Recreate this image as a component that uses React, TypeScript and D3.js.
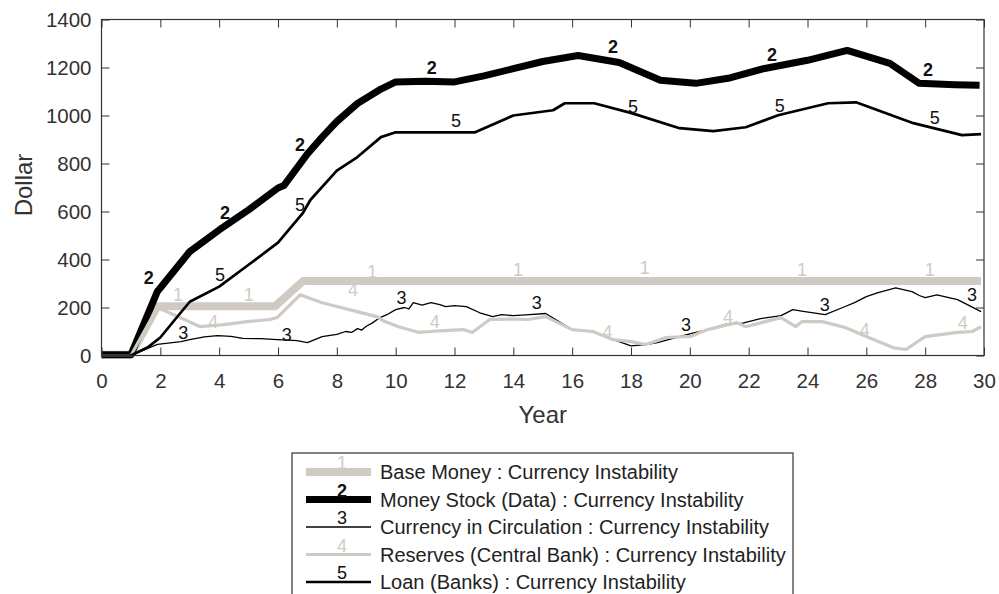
import React, { useEffect, useRef } from 'react'
import * as d3 from 'd3'

// --- data (year, dollar) ---
const baseYears = [0, 1, 1.9, 5.9, 6.85, 29.9]
const baseValues = [3, 3, 205, 205, 310, 310]

const moneyYears = [0, 1, 1.9, 3, 4, 5, 6, 6.2, 7, 7.5, 8, 8.7, 9.5, 10, 11, 12, 13, 14, 15, 16.2, 17.6, 19, 20.2, 21.3, 22.5, 24, 25.35, 26.8, 27.8, 29, 29.85]
const moneyValues = [3, 3, 267, 433, 523, 607, 698, 708, 840, 910, 975, 1050, 1110, 1140, 1143, 1140, 1165, 1195, 1225, 1250, 1221, 1147, 1134, 1155, 1195, 1230, 1271, 1217, 1134, 1128, 1126]

const currencyYears = [0, 1, 1.9, 2.7, 3.0, 3.5, 3.94, 4.4, 4.8, 5.4, 5.97, 6.65, 7.0, 7.5, 8.0, 8.3, 8.5, 8.7, 8.85, 9.0, 9.2, 9.47, 9.7, 10.0, 10.3, 10.45, 10.6, 10.9, 11.2, 11.5, 11.7, 12.0, 12.4, 12.86, 13.3, 13.6, 14.0, 14.55, 15.1, 16.0, 16.7, 17.4, 18.0, 18.5, 18.9, 19.4, 20.0, 20.6, 21.2, 21.8, 22.4, 23.1, 23.5, 23.8, 24.2, 24.6, 25.2, 25.6, 26.0, 26.4, 27.0, 27.55, 27.8, 28.0, 28.4, 29.1, 29.9]
const currencyValues = [0, 0, 46, 58, 66, 78, 83, 80, 71, 70, 66, 62, 54, 79, 88, 100, 96, 112, 106, 122, 135, 158, 170, 191, 200, 194, 220, 210, 220, 212, 204, 208, 204, 178, 162, 170, 166, 170, 175, 108, 100, 66, 40, 45, 54, 70, 90, 108, 130, 135, 154, 166, 191, 185, 178, 170, 200, 220, 245, 262, 282, 266, 250, 241, 253, 233, 183]

const reserveYears = [0, 1, 1.9, 2.6, 3.36, 4.15, 4.95, 5.73, 5.97, 6.75, 7.5, 8.69, 9.36, 9.57, 10.1, 10.8, 11.5, 12.3, 12.6, 13.2, 14, 14.5, 15.1, 16.0, 16.7, 17.4, 18.0, 18.5, 19.2, 20.05, 20.6, 21.6, 21.9, 23.1, 23.6, 23.8, 24.5, 25.3, 26.0, 26.9, 27.35, 27.7, 28.0, 29.1, 29.6, 29.9]
const reserveValues = [0, 0, 200, 162, 120, 129, 141, 150, 158, 253, 220, 183, 162, 145, 120, 96, 103, 108, 96, 150, 152, 150, 162, 108, 100, 66, 58, 46, 75, 80, 108, 137, 120, 158, 120, 141, 141, 116, 79, 33, 25, 54, 79, 96, 100, 120]

const loanYears = [0, 1, 1.56, 2, 2.5, 3, 4, 5, 6, 6.85, 7.1, 8, 8.7, 9.5, 10, 12.7, 14, 15.35, 15.75, 16.75, 18.05, 19.65, 20.8, 21.9, 23, 24.7, 25.65, 27.6, 29.25, 29.9]
const loanValues = [0, 0, 33, 75, 150, 224, 287, 378, 470, 594, 648, 770, 827, 910, 930, 930, 1000, 1022, 1051, 1051, 1009, 947, 935, 951, 1001, 1051, 1055, 968, 918, 922]

// number markers placed on the curves (year, dollar)
const baseMarks = [[2.6, 252], [5.01, 252], [9.2, 348], [14.16, 356], [18.47, 365], [23.81, 356], [28.16, 356]]
const moneyMarks = [[1.61, 323], [4.2, 593], [6.75, 877], [11.23, 1198], [17.39, 1285], [22.79, 1252], [28.1, 1190]]
const currencyMarks = [[2.78, 94], [6.3, 85], [10.2, 240], [14.8, 219], [19.87, 127], [24.59, 210], [29.59, 252]]
const reserveMarks = [[3.8, 140], [8.55, 273], [11.33, 140], [17.2, 98], [21.3, 160], [25.95, 106], [29.28, 135]]
const loanMarks = [[4.03, 335], [6.75, 627], [12.05, 977], [18.07, 1035], [23.06, 1040], [28.33, 990]]

const seriesNames = [
  'Base Money : Currency Instability',
  'Money Stock (Data) : Currency Instability',
  'Currency in Circulation : Currency Instability',
  'Reserves (Central Bank) : Currency Instability',
  'Loan (Banks) : Currency Instability',
]

const xTicks = d3.range(0, 31, 2)
const yTicks = d3.range(0, 1401, 200)

const GRAY = '#cfcbc4'
const FONT = '"Liberation Sans", Arial, sans-serif'

export default function App() {
  const ref = useRef<SVGSVGElement>(null)

  useEffect(() => {
    document.body.style.margin = '0'
    const width = 999
    const height = 594
    const plot = { left: 101.5, right: 984, top: 19.5, bottom: 355.5 }

    const svg = d3.select(ref.current!)
    svg.selectAll('*').remove()
    svg.attr('width', width).attr('height', height).style('display', 'block')
      .style('font-family', FONT)

    const x = d3.scaleLinear().domain([0, 30]).range([plot.left, plot.right])
    const y = d3.scaleLinear().domain([0, 1400]).range([plot.bottom, plot.top])

    const series = [
      { years: baseYears, values: baseValues, marks: baseMarks, color: GRAY, width: 8, bold: false },
      { years: moneyYears, values: moneyValues, marks: moneyMarks, color: '#000', width: 7, bold: true },
      { years: currencyYears, values: currencyValues, marks: currencyMarks, color: '#000', width: 1.3, bold: false },
      { years: reserveYears, values: reserveValues, marks: reserveMarks, color: GRAY, width: 3.2, bold: false },
      { years: loanYears, values: loanValues, marks: loanMarks, color: '#000', width: 2.7, bold: false },
    ]

    const line = d3.line<[number, number]>()
      .x(d => x(d[0]))
      .y(d => y(d[1]))

    const g = svg.append('g')
    series.forEach(s => {
      const pts = s.years.map((yr, i) => [yr, s.values[i]] as [number, number])
      g.append('path')
        .attr('d', line(pts))
        .attr('fill', 'none')
        .attr('stroke', s.color)
        .attr('stroke-width', s.width)
        .attr('stroke-linejoin', 'round')
    })
    series.forEach((s, i) => {
      g.selectAll(null)
        .data(s.marks)
        .enter()
        .append('text')
        .attr('x', d => x(d[0]))
        .attr('y', d => y(d[1]))
        .attr('text-anchor', 'middle')
        .attr('dominant-baseline', 'central')
        .attr('font-size', 18)
        .attr('font-weight', s.bold ? 'bold' : 'normal')
        .attr('fill', s.color === GRAY ? GRAY : '#111')
        .text(String(i + 1))
    })

    // axes
    const xAxisB = d3.axisBottom(x).tickValues(xTicks).tickSize(-8).tickPadding(18)
    const xAxisT = d3.axisTop(x).tickValues(xTicks).tickSize(-8).tickFormat(() => '')
    const yAxisL = d3.axisLeft(y).tickValues(yTicks).tickSize(-8).tickPadding(10).tickFormat(d3.format('d'))
    const yAxisR = d3.axisRight(y).tickValues(yTicks).tickSize(-8).tickFormat(() => '')

    const axes = [
      svg.append('g').attr('transform', `translate(0,${plot.bottom})`).call(xAxisB),
      svg.append('g').attr('transform', `translate(0,${plot.top})`).call(xAxisT),
      svg.append('g').attr('transform', `translate(${plot.left},0)`).call(yAxisL),
      svg.append('g').attr('transform', `translate(${plot.right},0)`).call(yAxisR),
    ]
    axes.forEach(a => {
      a.select('.domain').remove()
      a.selectAll('line').attr('stroke', '#333').attr('stroke-width', 1)
      a.selectAll('text').attr('fill', '#333').attr('font-size', 20.5).attr('font-family', FONT)
    })

    svg.append('rect')
      .attr('x', plot.left).attr('y', plot.top)
      .attr('width', plot.right - plot.left).attr('height', plot.bottom - plot.top)
      .attr('fill', 'none').attr('stroke', '#333').attr('stroke-width', 1.2)

    svg.append('text')
      .attr('x', (plot.left + plot.right) / 2).attr('y', 423)
      .attr('text-anchor', 'middle').attr('font-size', 24).attr('fill', '#333')
      .text('Year')
    svg.append('text')
      .attr('transform', `translate(32,185) rotate(-90)`)
      .attr('text-anchor', 'middle').attr('font-size', 24).attr('fill', '#333')
      .text('Dollar')

    // legend
    const lg = svg.append('g')
    lg.append('rect')
      .attr('x', 292).attr('y', 453).attr('width', 501).attr('height', 200)
      .attr('fill', '#fff').attr('stroke', '#333').attr('stroke-width', 1.2)
    series.forEach((s, i) => {
      const base = 479 + i * 27.5
      lg.append('line')
        .attr('x1', 306).attr('x2', 371)
        .attr('y1', base - 7).attr('y2', base - 7)
        .attr('stroke', s.color).attr('stroke-width', s.width)
      lg.append('text')
        .attr('x', 342).attr('y', base - 16)
        .attr('text-anchor', 'middle').attr('dominant-baseline', 'central')
        .attr('font-size', 18).attr('font-weight', s.bold ? 'bold' : 'normal')
        .attr('fill', s.color === GRAY ? GRAY : '#111')
        .text(String(i + 1))
      lg.append('text')
        .attr('x', 380).attr('y', base)
        .attr('font-size', 20).attr('fill', '#222')
        .text(seriesNames[i])
    })
  }, [])

  return (
    <div>
      <svg ref={ref}></svg>
    </div>
  )
}
